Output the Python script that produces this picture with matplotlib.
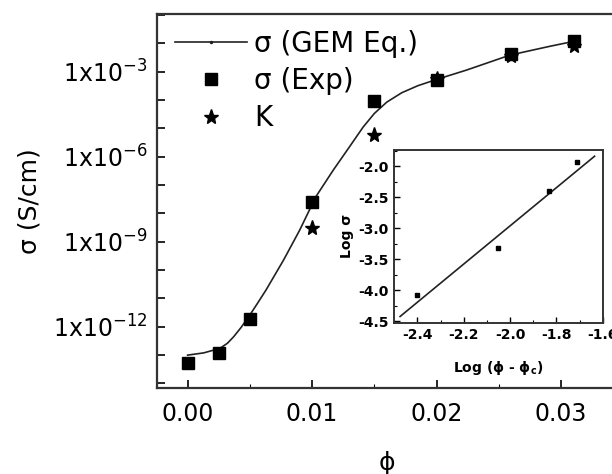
import numpy as np
import matplotlib
matplotlib.use("Agg")
import matplotlib.pyplot as plt
from matplotlib.lines import Line2D
from matplotlib.ticker import FixedLocator, FuncFormatter, MultipleLocator

# GEM equation curve, log10 sigma
phi_gem = [0.0, 0.0013, 0.0026, 0.0032, 0.0037, 0.0043, 0.0049, 0.0056, 0.0063,
           0.0077, 0.0090, 0.0103, 0.0117, 0.0130, 0.0141, 0.0150, 0.0160,
           0.0172, 0.0185, 0.0200, 0.0224, 0.0259, 0.0291, 0.0313]
log_gem = [-13.0, -12.92, -12.76, -12.58, -12.35, -12.02, -11.65, -11.18, -10.70,
           -9.65, -8.59, -7.41, -6.47, -5.65, -4.95, -4.47, -4.07,
           -3.74, -3.49, -3.27, -2.94, -2.41, -2.10, -1.90]

# experimental conductivity
phi_exp = [0.0, 0.0025, 0.005, 0.01, 0.015, 0.02, 0.026, 0.031]
log_exp = [-13.28, -12.93, -11.73, -7.61, -4.03, -3.29, -2.36, -1.92]

# K values
phi_k = [0.01, 0.015, 0.02, 0.026, 0.031]
log_k = [-8.52, -5.23, -3.27, -2.45, -2.08]

# inset: log sigma vs log(phi - phi_c)
ins_x = [-2.40, -2.05, -1.83, -1.71]
ins_y = [-4.08, -3.32, -2.40, -1.93]
fit_x = [-2.475, -1.635]
fit_y = [-4.42, -1.84]

fig = plt.figure(figsize=(6.12, 4.74), dpi=100)
ax = fig.add_axes([157 / 612, 86 / 474, 480 / 612, 374 / 474])

ax.plot(phi_gem, 10 ** np.array(log_gem), '-', color='#222222', lw=1.2)
ax.plot(phi_exp, 10 ** np.array(log_exp), 's', color='black', ms=8)
ax.plot(phi_k, 10 ** np.array(log_k), '*', color='black', ms=11)

ax.set_yscale('log')
ax.set_xlim(-0.00246, 0.0361)
ax.set_ylim(10 ** -14.16, 10 ** -0.96)

ax.xaxis.set_major_locator(MultipleLocator(0.01))
ax.xaxis.set_minor_locator(MultipleLocator(0.005))
ax.xaxis.set_major_formatter(FuncFormatter(lambda v, p: '%.2f' % v))

decades = 10.0 ** np.arange(-14, 0)
ax.yaxis.set_major_locator(FixedLocator(decades))


def sci_label(v, pos):
    e = int(round(np.log10(v)))
    if e % 3 != 0:
        return ''
    return '1x10$^{\\mathregular{%d}}$' % e


ax.yaxis.set_major_formatter(FuncFormatter(sci_label))
ax.tick_params(which='major', direction='in', length=6, width=1.2,
               labelsize=17, pad=7)
ax.tick_params(which='minor', direction='in', length=3, width=0.8)
ax.tick_params(axis='x', pad=10)
for s in ax.spines.values():
    s.set_linewidth(1.6)
    s.set_color('#333333')

ax.set_ylabel('σ (S/cm)', fontsize=18, labelpad=8)
fig.text(387 / 612, 1 - 463 / 474, 'ϕ', fontsize=18, ha='center', va='center')

handles = [
    Line2D([], [], color='#222222', lw=1.2, marker='o', ms=1.5),
    Line2D([], [], ls='none', marker='s', color='black', ms=8),
    Line2D([], [], ls='none', marker='*', color='black', ms=11),
]
ax.legend(handles, ['σ (GEM Eq.)', 'σ (Exp)', 'K'],
          loc='upper left', bbox_to_anchor=(175 / 612, 1 - 30 / 474),
          bbox_transform=fig.transFigure, frameon=False, fontsize=20,
          handlelength=2.6, handletextpad=0.25, labelspacing=0.33,
          borderpad=0, borderaxespad=0, numpoints=1)

# inset
ins = fig.add_axes([394.3 / 612, 151.3 / 474, 208.4 / 612, 172.7 / 474])
ins.plot(fit_x, fit_y, '-', color='#222222', lw=1.2)
ins.plot(ins_x, ins_y, 's', color='black', ms=3.5)
ins.set_xlim(-2.5, -1.6)
ins.set_ylim(-4.52, -1.74)
ins.xaxis.set_major_locator(MultipleLocator(0.2))
ins.xaxis.set_minor_locator(MultipleLocator(0.1))
ins.yaxis.set_major_locator(MultipleLocator(0.5))
ins.yaxis.set_minor_locator(MultipleLocator(0.25))
ins.xaxis.set_major_formatter(FuncFormatter(lambda v, p: '%.1f' % v))
ins.yaxis.set_major_formatter(FuncFormatter(lambda v, p: '%.1f' % v))
ins.tick_params(which='major', direction='in', length=4, width=1,
                labelsize=10, pad=4)
ins.tick_params(which='minor', direction='in', length=2, width=0.8)
for lab in ins.get_xticklabels() + ins.get_yticklabels():
    lab.set_fontweight('bold')
for s in ins.spines.values():
    s.set_linewidth(1.4)
    s.set_color('#333333')
ins.set_ylabel('Log σ', fontsize=10, fontweight='bold', labelpad=3)
ins.set_xlabel('Log (ϕ - ϕ$_\\mathregular{c}$)', fontsize=10,
               fontweight='bold', labelpad=12)

fig.savefig('out.png', dpi=100)
